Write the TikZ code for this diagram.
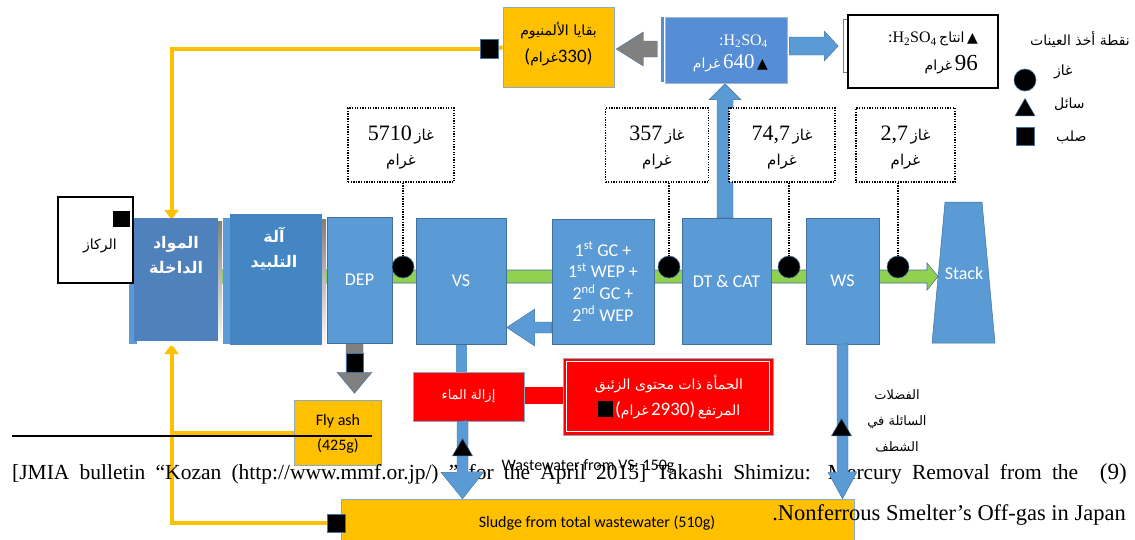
\documentclass[tikz,border=0pt]{standalone}
\usepackage{fontspec}
\setmainfont{Liberation Serif}
\newfontfamily\calfont{Carlito}
\newfontfamily\arabicfont[Script=Arabic]{DejaVu Sans}
\newfontfamily\glyphfont{DejaVu Sans}
\TeXXeTstate=1
\usetikzlibrary{calc,shapes.geometric,arrows.meta}
\pgfdeclarelayer{back}
\pgfdeclarelayer{front}
\pgfsetlayers{back,main,front}
\newcommand{\ar}[1]{{\arabicfont\beginR #1\endR}}
\newcommand{\fs}[2]{\fontsize{#1}{#2}\selectfont}
\newcommand{\tri}{{\glyphfont ▲}}
\definecolor{pblue}{HTML}{5B9BD5}
\definecolor{pedge}{HTML}{41719C}
\definecolor{feedc}{HTML}{4F81BD}
\definecolor{sintc}{HTML}{4485C3}
\definecolor{hblue}{HTML}{558ED5}
\definecolor{gband}{HTML}{92D050}
\definecolor{orng}{HTML}{FFC000}
\definecolor{grayc}{HTML}{808080}
\definecolor{redc}{HTML}{FF0000}
\definecolor{shade}{HTML}{A6A6A6}
\begin{document}
\begin{tikzpicture}[x=1pt,y=-1pt,
  proc/.style={fill=pblue, draw=pedge, line width=0.5, text=white, inner sep=0,
    font=\calfont\fs{18}{21.7}, align=center},
  obox/.style={fill=orng, draw=pedge!60, line width=0.5, inner sep=0},
  rbox/.style={fill=redc, draw=pedge!60, line width=0.6, inner sep=0},
  gasbox/.style={draw=black, line width=1.3, dash pattern=on 1.3pt off 1.3pt, fill=white, inner sep=0},
  gasdot/.style={circle, fill=black, draw=pedge, line width=0.6, minimum size=22, inner sep=0},
  solidmk/.style={fill=black, draw=pedge, line width=0.8, minimum width=18, minimum height=18, inner sep=0},
  liqmk/.style={regular polygon, regular polygon sides=3, fill=black, draw=pedge, line width=0.5, minimum size=23, inner sep=0},
  gaslink/.style={draw=black, line width=1.3, dash pattern=on 1.3pt off 1.3pt},
  oline/.style={draw=orng, line width=4},
  otip/.style={-{Triangle[width=14pt,length=10pt]}},
  blockb/.style={fill=pblue, draw=pedge, line width=0.4},
  txt/.style={inner sep=0, align=center},
]
\useasboundingbox (0,0) rectangle (1135,539);

% ---------- top row: aluminium residue, acid, product ----------
\node[obox, minimum width=111, minimum height=80] (alum) at (558.5,47) {};
\node[txt, font=\fs{14}{16}] (alumt1) at (558.5,31) {\ar{بقايا الألمنيوم}};
\node[txt] (alumt2) at (558.5,57) {{\calfont\fs{19}{20}(}{\fs{14}{16}\ar{غرام}}{\calfont\fs{19}{20}330)}};
\node[solidmk, minimum height=19] (alsq) at (489,48.5) {};

\node[fill=hblue, minimum width=3, minimum height=65, inner sep=0] (acidbar) at (662.5,49.5) {};
\node[fill=hblue, draw=pedge!50, line width=0.4, minimum width=122, minimum height=66, inner sep=0] (acid) at (726,50) {};
\node[txt, anchor=east, text=white, font=\fs{16}{18}] (acidt1) at (768,41) {:H\textsubscript{2}SO\textsubscript{4}};
\node[txt, anchor=east, text=white] (acidt2) at (768,63) {{\fs{14}{16}\ar{غرام}} {\fs{21}{21}640} {\color{black}\fs{14}{16}\tri}};

\node[fill=white, draw=gray, line width=0.6, minimum width=5, minimum height=53, inner sep=0] (prodbar) at (845.5,45.5) {};
\node[fill=white, draw=black, line width=1.6, minimum width=150, minimum height=73, inner sep=0] (prod) at (923,51.5) {};
\node[txt, anchor=east] (prodt1) at (978,39) {{\fs{16}{18}:H\textsubscript{2}SO\textsubscript{4}} {\fs{14}{16}\ar{انتاج}} {\fs{14}{16}\tri}};
\node[txt, anchor=east] (prodt2) at (978,65) {{\fs{14}{16}\ar{غرام}} {\fs{23}{23}96}};

% ---------- legend ----------
\node[txt, anchor=east, font=\fs{14}{16}] (legt) at (1130,40) {\ar{نقطة أخذ العينات}};
\node[gasdot] (leggas) at (1025,80) {};
\node[liqmk] (legliq) at (1025,110) {};
\node[solidmk] (legsol) at (1025,136) {};
\node[txt, anchor=west, font=\fs{14}{16}] (leggast) at (1054,72) {\ar{غاز}};
\node[txt, anchor=west, font=\fs{14}{16}] (legliqt) at (1054,104) {\ar{سائل}};
\node[txt, anchor=west, font=\fs{14}{16}] (legsolt) at (1056,137) {\ar{صلب}};

% ---------- gas sampling boxes ----------
\node[gasbox, minimum width=106, minimum height=74] (gas1) at (401,145) {};
\node[gasbox, minimum width=103, minimum height=74] (gas2) at (657,145) {};
\node[gasbox, minimum width=106, minimum height=74] (gas3) at (782,145) {};
\node[gasbox, minimum width=99, minimum height=74] (gas4) at (905.5,145) {};
\foreach \g/\v in {gas1/5710, gas2/357, gas3/{74,7}, gas4/{2,7}}{
  \node[txt] (\g a) at ($(\g)+(0,-10)$) {{\fs{22}{22}\v} {\fs{15}{16}\ar{غاز}}};
  \node[txt, font=\fs{15}{16}] (\g b) at ($(\g)+(0,17)$) {\ar{غرام}};
}

% ---------- feed and sintering ----------
\node[fill=pblue, minimum width=85, minimum height=124, inner sep=0] (feedbk) at (171.5,282) {};
\fill[shade] (137,221) rectangle (222,345);
\node[fill=feedc, minimum width=84, minimum height=123, inner sep=0] (feed) at (176,279.5) {};
\node[txt, text=white, font=\bfseries\fs{16}{25}] (feedt) at (176,255) {\ar{المواد}\\\ar{الداخلة}};

\node[draw=black, line width=1.4, fill=white, minimum width=75, minimum height=86, inner sep=0] (ore) at (95.5,240) {};
\node[solidmk, draw=none, minimum width=17, minimum height=16] (oresq) at (121.5,219) {};
\node[txt, font=\fs{14}{16}] (oret) at (100,246) {\ar{الركاز}};

\node[fill=pblue, minimum width=92, minimum height=126, inner sep=0] (sintbk) at (269,281) {};
\fill[shade] (234,219) rectangle (326,349);
\node[fill=sintc, minimum width=92, minimum height=131, inner sep=0] (sinter) at (276,279.5) {};
\node[txt, text=white, font=\bfseries\fs{16}{25}] (sintt) at (274,249) {\ar{آلة}\\\ar{التلبيد}};

% ---------- process line ----------
\node[proc, minimum width=65, minimum height=126] (dep) at (359.5,280) {DEP};
\node[proc, minimum width=90, minimum height=126] (vs) at (461,281) {VS};
\node[proc, minimum width=102, minimum height=125] (gc) at (603,281.5)
  {1\textsuperscript{st} GC +\\1\textsuperscript{st} WEP +\\2\textsuperscript{nd} GC +\\2\textsuperscript{nd} WEP};
\node[proc, minimum width=89, minimum height=126] (dt) at (726.5,281) {DT \& CAT};
\node[proc, minimum width=73, minimum height=126] (ws) at (842.5,281) {WS};
\filldraw[fill=pblue, draw=pedge, line width=0.5] (945,202) -- (982,202) -- (995,343) -- (932,343) -- cycle;
\node[txt, text=white, font=\calfont\fs{18}{20}] (stack) at (964,273) {Stack};
\coordinate (stackin) at (938,276.5);
\coordinate (bandstart) at (feedbk.east |- 0,276.5);

% ---------- sampling points on the gas line ----------
\node[gasdot] (s1) at (403,267) {};
\node[gasdot] (s2) at (669,267) {};
\node[gasdot] (s3) at (789,267) {};
\node[gasdot] (s4) at (898,267) {};

% ---------- dewatering and sludge ----------
\node[rbox, minimum width=111, minimum height=49] (dewater) at (468.5,396.5) {};
\node[txt, text=white, font=\fs{13}{14}] (dewatert) at (468.5,396) {\ar{إزالة الماء}};
\node[rbox, minimum width=210, minimum height=77] (hgsl) at (668,396.5) {};
\draw[white, line width=1] (566.5,361.5) rectangle (769.5,431.5);
\node[txt, text=white, font=\fs{14}{16}] (hgslt1) at (669,384) {\ar{الحمأة ذات محتوى الزئبق}};
\node[txt, text=white] (hgslt2) at (669,410) {{\color{black}\rule[-1pt]{15pt}{16pt}} {\calfont\fs{19}{20}(}{\fs{14}{16}\ar{غرام}} {\calfont\fs{19}{20}2930)} {\fs{14}{16}\ar{المرتفع}}};

\node[obox, minimum width=87, minimum height=65] (flyash) at (337.5,432.5) {};
\node[txt, font=\calfont\fs{16}{25}] (flyasht) at (338,434) {Fly ash\\(425g)};
\node[solidmk, minimum width=17, minimum height=19] (depsq) at (354.5,362.5) {};

\node[obox, minimum width=513, minimum height=60] (sludge) at (597.5,529) {};
\node[txt, font=\calfont\fs{16}{18}] (sludget) at (597,523) {Sludge from total wastewater (510g)};
\node[solidmk] (slsq) at (336,523) {};

\node[txt, font=\fs{13}{26}] (rinse) at (897,421) {\ar{الفضلات}\\\ar{السائلة في}\\\ar{الشطف}};

% ---------- reference note ----------
\draw[line width=1.6] (12,436) -- (372,436);
\node[anchor=base west, inner sep=0, font=\fs{21.5}{24}] (cap1) at (12,479)
  {\makebox[1066pt][s]{[JMIA bulletin “Kozan (http://www.mmf.or.jp/) ” for the April 2015] Takashi Shimizu: Mercury Removal from the}};
\node[anchor=base east, inner sep=0, font=\fs{23}{24}] (cap9) at (1127,479) {(9)};
\node[anchor=base east, inner sep=0, font=\fs{22.5}{24}] (cap2) at (1126,520) {.Nonferrous Smelter’s Off-gas in Japan};
\node[txt, font=\calfont\fs{16}{18}] (wwvs) at (588,466) {Wastewater from VS: 150g};

% ---------- connectors behind the blocks ----------
\begin{pgfonlayer}{back}
  % gas line
  \filldraw[fill=gband, draw=pedge, line width=0.6]
    ($(bandstart)+(0,-6.5)$) -- ($(stackin)+(-11,-6.5)$) -- ($(stackin)+(-11,-13.5)$) -- (stackin)
    -- ($(stackin)+(-11,13.5)$) -- ($(stackin)+(-11,6.5)$) -- ($(bandstart)+(0,6.5)$) -- cycle;
  % recycle lines
  \draw[oline] (alum.west) -- (alsq.east);
  \draw[oline, otip] (alsq.west) -| (feedbk.north);
  \draw[oline, otip] (slsq.west) -| (feedbk.south);
  \draw[oline] (flyash.west) -- (flyash.west -| feedbk.south);
  % DT & CAT to acid
  \filldraw[blockb] ($(dt.north)+(-1.5,0)$) ++(-8,0) -- ++(0,-118) -- ++(-8,0) -- ++(16,-16)
    -- ++(16,16) -- ++(-8,0) -- ++(0,118) -- cycle;
  % red link
  \fill[redc] (dewater.east |- 0,387) rectangle (hgsl.west |- 0,404);
  % VS to dewatering
  \fill[pblue] ($(vs.south)+(-5,0)$) rectangle ($(vs.south |- dewater.north)+(6,0)$);
  % DEP to fly ash
  \filldraw[fill=grayc, draw=pedge, line width=0.4] ($(dep.south)+(-5,0)$) ++(-8.5,0) -- ++(0,29) -- ++(-9,0)
    -- ++(17.5,21) -- ++(17.5,-21) -- ++(-9,0) -- ++(0,-29) -- cycle;
\end{pgfonlayer}

% ---------- connectors in front ----------
\begin{pgfonlayer}{front}
  \foreach \i in {1,2,3,4}{ \draw[gaslink] (gas\i.south -| s\i) -- (s\i.north); }
  % acid to aluminium residue
  \filldraw[fill=grayc, draw=pedge, line width=0.4] ($(alum.east)+(2,2)$) -- ++(27,-17) -- ++(0,9) -- ++(14,0)
    -- ++(0,16) -- ++(-14,0) -- ++(0,9) -- cycle;
  % acid to product
  \filldraw[blockb] ($(acid.east |- 0,46)+(2,0)$) ++(0,-9) -- ++(35,0) -- ++(0,-6) -- ++(14,15)
    -- ++(-14,15) -- ++(0,-6) -- ++(-35,0) -- cycle;
  % GC back to VS
  \filldraw[blockb] (gc.west |- 0,327.5) ++(0,-5.5) -- ++(-17,0) -- ++(0,-13) -- ++(-28,18.5)
    -- ++(28,18.5) -- ++(0,-13) -- ++(17,0) -- cycle;
  % dewatering to sludge
  \filldraw[blockb] ($(dewater.south -| vs.south)+(1.5,0)$) ++(-5.5,0) -- ++(0,51) -- ++(-16,0)
    -- ($(sludge.north -| vs.south)+(1.5,0)$) -- ++(21.5,-27) -- ++(-16,0) -- ++(0,-51) -- cycle;
  % WS to sludge
  \filldraw[blockb] (ws.south) ++(-5.5,0) -- ++(0,128) -- ++(-9,0) -- ($(sludge.north -| ws.south)$)
    -- ++(14.5,-27) -- ++(-9,0) -- ++(0,-128) -- cycle;
  \node[liqmk] (mk1) at (462.5,450) {};
  \node[liqmk] (mk2) at (841.5,430) {};
\end{pgfonlayer}
\end{tikzpicture}
\end{document}
